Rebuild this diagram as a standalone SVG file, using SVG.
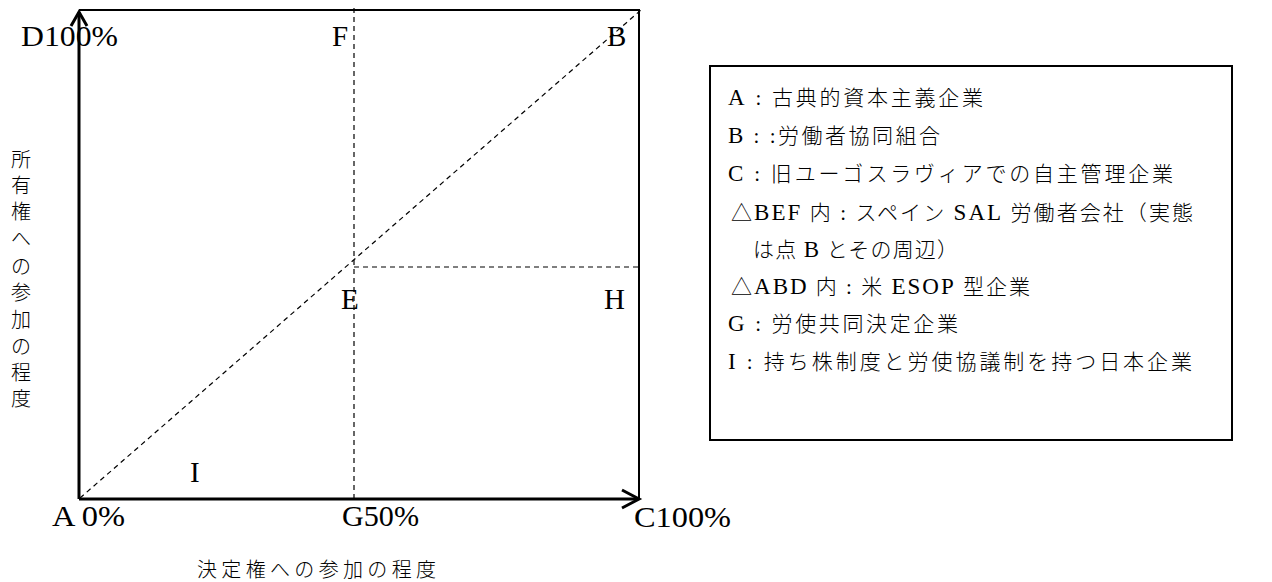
<svg xmlns="http://www.w3.org/2000/svg" width="1272" height="582" viewBox="0 0 1272 582">
<style>
.lat{font-family:"Liberation Serif","Noto Serif CJK JP","Noto Sans CJK JP",serif;font-size:29px;fill:#000}
.jp{font-family:"Liberation Serif","Noto Sans CJK JP",sans-serif;font-size:20px;fill:#000;font-weight:300}
.lg{font-family:"Liberation Serif","Noto Sans CJK JP",sans-serif;font-size:21px;fill:#000;font-weight:300}
.L{font-size:23px;font-weight:400}
.ax{stroke:#000;stroke-width:3;fill:none}
.fr{stroke:#000;stroke-width:2;fill:none}
.da{stroke:#000;stroke-width:1.2;stroke-dasharray:5,4;fill:none}
</style>
<rect width="1272" height="582" fill="#fff"/>
<g id="connectors">
<line class="fr" x1="79" y1="10" x2="640" y2="10"/>
<line class="fr" x1="639" y1="10" x2="639" y2="499"/>
<line class="ax" x1="79" y1="499" x2="79" y2="12"/>
<polyline class="ax" points="71,26 79,12 87,26"/>
<line class="ax" x1="79" y1="499" x2="638" y2="499"/>
<polyline class="ax" points="622,490 639,499 622,508"/>
<line class="da" x1="80" y1="498" x2="641" y2="10"/>
<line class="da" x1="354" y1="8" x2="354" y2="498"/>
<line class="da" x1="354" y1="267" x2="638" y2="267"/>
</g>
<g id="labels">
<text class="lat" x="21" y="46" textLength="97" lengthAdjust="spacingAndGlyphs">D100%</text>
<text class="lat" x="332" y="46">F</text>
<text class="lat" x="607" y="46">B</text>
<text class="lat" x="341" y="309">E</text>
<text class="lat" x="604" y="309">H</text>
<text class="lat" x="190" y="482">I</text>
<text class="lat" x="52" y="526" textLength="73" lengthAdjust="spacingAndGlyphs">A 0%</text>
<text class="lat" x="342" y="526" textLength="77" lengthAdjust="spacingAndGlyphs">G50%</text>
<text class="lat" x="634" y="527" textLength="97" lengthAdjust="spacingAndGlyphs">C100%</text>
</g>
<g id="axis-y-label" class="jp" text-anchor="middle">
<text x="21" y="167">所</text>
<text x="21" y="193">有</text>
<text x="21" y="219">権</text>
<text x="21" y="246">へ</text>
<text x="21" y="274">の</text>
<text x="21" y="300">参</text>
<text x="21" y="327">加</text>
<text x="21" y="354">の</text>
<text x="21" y="380">程</text>
<text x="21" y="406">度</text>
</g>
<g id="axis-x-label">
<text class="jp" x="197" y="577" textLength="239" lengthAdjust="spacing">決定権への参加の程度</text>
</g>
<g id="legend">
<rect x="710" y="66" width="522" height="374" fill="none" stroke="#000" stroke-width="2"/>
<text class="lg" x="728" y="105" textLength="255" lengthAdjust="spacing"><tspan class="L">A</tspan> : 古典的資本主義企業</text>
<text class="lg" x="728" y="143" textLength="212" lengthAdjust="spacing"><tspan class="L">B</tspan> : :労働者協同組合</text>
<text class="lg" x="728" y="181" textLength="445" lengthAdjust="spacing"><tspan class="L">C</tspan> : 旧ユーゴスラヴィアでの自主管理企業</text>
<text class="lg" x="731" y="220" textLength="462" lengthAdjust="spacing">△<tspan class="L">BEF</tspan> 内 : スペイン <tspan class="L">SAL</tspan> 労働者会社（実態</text>
<text class="lg" x="753" y="257" textLength="205" lengthAdjust="spacing">は点 <tspan class="L">B</tspan> とその周辺）</text>
<text class="lg" x="731" y="294" textLength="299" lengthAdjust="spacing">△<tspan class="L">ABD</tspan> 内 : 米 <tspan class="L">ESOP</tspan> 型企業</text>
<text class="lg" x="728" y="331" textLength="230" lengthAdjust="spacing"><tspan class="L">G</tspan> : 労使共同決定企業</text>
<text class="lg" x="728" y="369" textLength="464" lengthAdjust="spacing"><tspan class="L">I</tspan> : 持ち株制度と労使協議制を持つ日本企業</text>
</g>
</svg>
